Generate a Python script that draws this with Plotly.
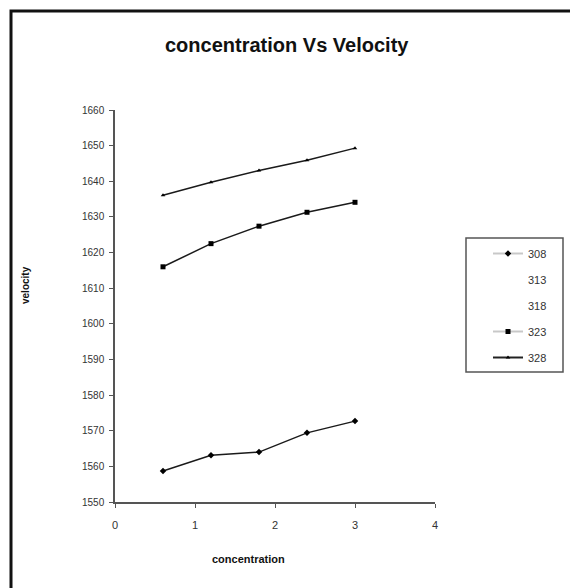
import plotly.graph_objects as go

concentration = [0.6, 1.2, 1.8, 2.4, 3.0]
temperatures = ["308", "313", "318", "323", "328"]
v308 = [1558.7, 1563.1, 1564.0, 1569.4, 1572.7]
v323 = [1616.0, 1622.5, 1627.4, 1631.3, 1634.1]
v328 = [1636.1, 1639.7, 1643.0, 1645.9, 1649.3]
y_ticks = [1550, 1560, 1570, 1580, 1590, 1600, 1610, 1620, 1630, 1640, 1650, 1660]
x_ticks = [0, 1, 2, 3, 4]

W, H = 570, 588
L, R, T, B = 115, 135, 110, 86
pw, ph = W - L - R, H - T - B

def px_x(px):
    return (px - L) / pw

def px_y(py):
    return (H - B - py) / ph

fig = go.Figure()

series = {"308": (v308, "diamond", 5), "323": (v323, "square", 5), "328": (v328, "triangle-up", 4)}
for name, (vals, sym, sz) in series.items():
    fig.add_trace(go.Scatter(x=concentration, y=vals, mode="lines+markers",
                             line=dict(color="#1a1a1a", width=1.5),
                             marker=dict(symbol=sym, size=sz, color="#000"),
                             showlegend=False, hoverinfo="x+y", name=name))

# legend entries
legend_style = {
    "308": dict(mode="lines+markers", line=dict(color="#c8c8c8", width=2), marker=dict(symbol="diamond", size=5, color="#000")),
    "313": dict(mode="lines", line=dict(color="rgba(0,0,0,0)", width=2)),
    "318": dict(mode="lines", line=dict(color="rgba(0,0,0,0)", width=2)),
    "323": dict(mode="lines+markers", line=dict(color="#c8c8c8", width=2), marker=dict(symbol="square", size=5, color="#000")),
    "328": dict(mode="lines+markers", line=dict(color="#222", width=2), marker=dict(symbol="triangle-up", size=4, color="#000")),
}
for t in temperatures:
    fig.add_trace(go.Scatter(x=[None], y=[None], name=t, legendgroup=t, showlegend=True, **legend_style[t]))

fig.update_layout(
    width=W, height=H,
    margin=dict(l=L, r=R, t=T, b=B),
    paper_bgcolor="white", plot_bgcolor="white",
    font=dict(family="Liberation Sans, Arial, sans-serif", size=9, color="#333"),
    xaxis=dict(range=[0, 4], tickvals=x_ticks, showgrid=False, zeroline=False,
               showline=True, linecolor="#555", linewidth=1.5,
               ticks="outside", ticklen=4, tickcolor="#555", tickwidth=1,
               ticklabelstandoff=8,
               tickfont=dict(size=11, color="#333")),
    yaxis=dict(range=[1550, 1660], tickvals=y_ticks, showgrid=False, zeroline=False,
               showline=True, linecolor="#555", linewidth=1.5,
               ticks="outside", ticklen=4, tickcolor="#555", tickwidth=1,
               ticklabelstandoff=3,
               tickfont=dict(size=10, color="#333")),
    legend=dict(x=px_x(488), y=px_y(239), xanchor="left", yanchor="top",
                borderwidth=0, bgcolor="rgba(0,0,0,0)",
                font=dict(size=11, color="#333"), tracegroupgap=7,
                entrywidth=70, entrywidthmode="pixels"),
    showlegend=True,
)

# legend frame
fig.add_shape(type="rect", xref="paper", yref="paper",
              x0=px_x(466), x1=px_x(563), y0=px_y(372), y1=px_y(238),
              line=dict(color="#555", width=1.5), fillcolor="rgba(0,0,0,0)", layer="above")

fig.add_annotation(text="<b>concentration Vs Velocity</b>", xref="paper", yref="paper",
                   x=px_x(287), y=px_y(45), showarrow=False,
                   font=dict(size=20, color="#111"), xanchor="center", yanchor="middle")
fig.add_annotation(text="<b>concentration</b>", xref="paper", yref="paper",
                   x=px_x(248), y=px_y(559), showarrow=False,
                   font=dict(size=11, color="#111"), xanchor="center", yanchor="middle")
fig.add_annotation(text="<b>velocity</b>", xref="paper", yref="paper",
                   x=px_x(25), y=px_y(285), showarrow=False, textangle=-90,
                   font=dict(size=10, color="#111"), xanchor="center", yanchor="middle")

fig.add_shape(type="rect", xref="paper", yref="paper",
              x0=px_x(11), x1=px_x(600), y0=px_y(620), y1=px_y(11),
              line=dict(color="#111", width=3), fillcolor="rgba(0,0,0,0)", layer="above")

fig.write_html("out.html")
